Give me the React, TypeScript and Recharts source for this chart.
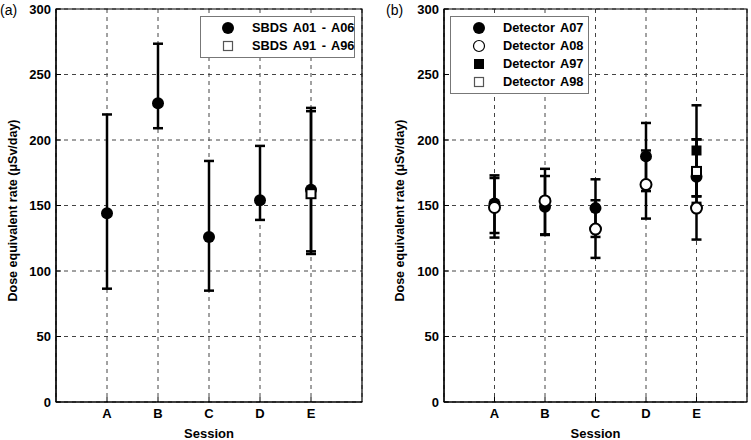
import { ScatterChart, Scatter, XAxis, YAxis, CartesianGrid, ErrorBar, ReferenceArea, Label } from 'recharts';

const sessions = ['A', 'B', 'C', 'D', 'E'];
const yTicks = [0, 50, 100, 150, 200, 250, 300];

// panel (a)
const sbdsA01 = [144, 228, 126, 154, 162];
const sbdsA01Low = [86.5, 209, 85, 139, 115];
const sbdsA01High = [219.5, 273.5, 184, 195.5, 224.5];
const sbdsA91 = [null, null, null, null, 159];
const sbdsA91Low = [null, null, null, null, 113];
const sbdsA91High = [null, null, null, null, 222];

// panel (b)
const detA07 = [151.5, 149, 148, 187.5, 172];
const detA07Low = [129, 127.5, 126, 161, 157];
const detA07High = [173, 172.5, 170, 213, 200.5];
const detA08 = [148.5, 153.5, 132, 166, 148];
const detA08Low = [125.5, 128, 110, 140, 124];
const detA08High = [171, 178, 154, 192, 172];
const detA97 = [null, null, null, null, 192];
const detA97Low = [null, null, null, null, 157];
const detA97High = [null, null, null, null, 226.5];
const detA98 = [null, null, null, null, 176];
const detA98Low = [null, null, null, null, 152];
const detA98High = [null, null, null, null, 200.5];

type Num = number | null;

function toPoints(vals: Num[], lows: Num[], highs: Num[]) {
  return vals.flatMap((v, i) =>
    v == null ? [] : [{ x: i + 1, y: v, err: [v - (lows[i] as number), (highs[i] as number) - v] }]
  );
}

const FONT = '"Liberation Sans", Arial, Helvetica, sans-serif';

const FilledCircle = (p: any) => <circle cx={p.cx} cy={p.cy} r={6} fill="#000" />;
const OpenCircle = (p: any) => <circle cx={p.cx} cy={p.cy} r={5.5} fill="#fff" stroke="#000" strokeWidth={2} />;
const FilledSquare = (p: any) => <rect x={p.cx - 5} y={p.cy - 5} width={10} height={10} fill="#000" />;
const OpenSquare = (p: any) => (
  <rect x={p.cx - 4.5} y={p.cy - 4.5} width={9} height={9} fill="#fff" stroke="#000" strokeWidth={2} />
);

interface SeriesDef {
  name: string;
  data: { x: number; y: number; err: number[] }[];
  shape: (p: any) => any;
  icon: any;
}

const iconCircle = <circle cx={8} cy={8} r={6} fill="#000" />;
const iconOpenCircle = <circle cx={8} cy={8} r={5.5} fill="#fff" stroke="#000" strokeWidth={1.2} />;
const iconSquare = <rect x={3} y={3} width={10} height={10} fill="#000" />;
const iconOpenSquare = <rect x={3.5} y={3.5} width={9} height={9} fill="#fff" stroke="#555" strokeWidth={1.2} />;

const seriesA: SeriesDef[] = [
  { name: 'SBDS A01 - A06', data: toPoints(sbdsA01, sbdsA01Low, sbdsA01High), shape: FilledCircle, icon: iconCircle },
  { name: 'SBDS A91 - A96', data: toPoints(sbdsA91, sbdsA91Low, sbdsA91High), shape: OpenSquare, icon: iconOpenSquare },
];

const seriesB: SeriesDef[] = [
  { name: 'Detector A07', data: toPoints(detA07, detA07Low, detA07High), shape: FilledCircle, icon: iconCircle },
  { name: 'Detector A08', data: toPoints(detA08, detA08Low, detA08High), shape: OpenCircle, icon: iconOpenCircle },
  { name: 'Detector A97', data: toPoints(detA97, detA97Low, detA97High), shape: FilledSquare, icon: iconSquare },
  { name: 'Detector A98', data: toPoints(detA98, detA98Low, detA98High), shape: OpenSquare, icon: iconOpenSquare },
];

interface PanelProps {
  left: number;
  yAxisWidth: number;
  rightMargin: number;
  titleX: number;
  series: SeriesDef[];
  legend: { left: number; top: number; width: number; markerX: number; textX: number };
  tag: string;
  tagLeft: number;
}

function Panel({ left, yAxisWidth, rightMargin, titleX, series, legend, tag, tagLeft }: PanelProps) {
  const tickStyle = { fill: '#000', fontSize: 13, fontWeight: 'bold' as const, fontFamily: FONT };
  return (
    <div style={{ position: 'absolute', left, top: 0, width: 375, height: 440 }}>
      <ScatterChart width={375} height={440} margin={{ top: 9, right: rightMargin, bottom: 0, left: 0 }}>
        <CartesianGrid stroke="#444" strokeDasharray="4 4" strokeWidth={1} />
        <XAxis
          type="number"
          dataKey="x"
          domain={[0, 6]}
          ticks={[1, 2, 3, 4, 5]}
          tickFormatter={(v: number) => sessions[v - 1] ?? ''}
          height={38}
          tickSize={-5}
          tickMargin={12}
          tick={tickStyle}
          axisLine={{ stroke: '#000', strokeWidth: 1.2 }}
          tickLine={{ stroke: '#000' }}
          allowDataOverflow
        >
          <Label value="Session" position="insideBottom" offset={2} style={{ fill: '#000', fontSize: 13, fontWeight: 'bold', fontFamily: FONT }} />
        </XAxis>
        <YAxis
          type="number"
          dataKey="y"
          domain={[0, 300]}
          ticks={yTicks}
          width={yAxisWidth}
          tickSize={-5}
          tickMargin={10}
          tick={tickStyle}
          axisLine={{ stroke: '#000', strokeWidth: 1.2 }}
          tickLine={{ stroke: '#000' }}
          allowDataOverflow
        >
          <Label
            content={(props: any) => {
              const vb = props.viewBox || {};
              const cy = (vb.y ?? 9) + (vb.height ?? 393) / 2 + 5;
              return (
                <text
                  x={titleX}
                  y={cy}
                  transform={`rotate(-90 ${titleX} ${cy})`}
                  textAnchor="middle"
                  dominantBaseline="central"
                  style={{ fill: '#000', fontSize: 12.5, fontWeight: 'bold', fontFamily: FONT }}
                >
                  Dose equivalent rate (μSv/day)
                </text>
              );
            }}
          />
        </YAxis>
        <ReferenceArea x1={0} x2={6} y1={0} y2={300} fill="none" stroke="#000" strokeWidth={1.2} ifOverflow="visible" />
        {series.map((s) => (
          <Scatter key={s.name} name={s.name} data={s.data} dataKey="y" shape={s.shape} isAnimationActive={false}>
            <ErrorBar dataKey="err" direction="y" width={5} strokeWidth={2.5} stroke="#000" />
          </Scatter>
        ))}
      </ScatterChart>
      <div
        style={{
          position: 'absolute',
          left: legend.left,
          top: legend.top,
          width: legend.width,
          background: '#fff',
          border: '1px solid #777',
          padding: '2px 0',
          fontFamily: FONT,
          fontWeight: 'bold',
          fontSize: 12.8,
          color: '#000',
        }}
      >
        {series.map((s) => (
          <div key={s.name} style={{ position: 'relative', height: 18, lineHeight: '18px' }}>
            <svg width={16} height={16} style={{ position: 'absolute', left: legend.markerX - 8, top: 1 }}>
              {s.icon}
            </svg>
            <span style={{ position: 'absolute', left: legend.textX, top: 0, whiteSpace: 'nowrap', wordSpacing: 2 }}>
              {s.name}
            </span>
          </div>
        ))}
      </div>
      <div style={{ position: 'absolute', left: tagLeft, top: 2, fontFamily: FONT, fontSize: 14, color: '#000' }}>{tag}</div>
    </div>
  );
}

export default function App() {
  return (
    <div style={{ position: 'absolute', left: 0, top: 0, width: 751, height: 440, background: '#fff' }}>
      <Panel
        left={0}
        yAxisWidth={56}
        rightMargin={13}
        titleX={13}
        series={seriesA}
        legend={{ left: 200, top: 16, width: 153, markerX: 27, textX: 51 }}
        tag="(a)"
        tagLeft={0}
      />
      <Panel
        left={376}
        yAxisWidth={68}
        rightMargin={4}
        titleX={24}
        series={seriesB}
        legend={{ left: 74, top: 16, width: 137, markerX: 28, textX: 52 }}
        tag="(b)"
        tagLeft={10}
      />
    </div>
  );
}
